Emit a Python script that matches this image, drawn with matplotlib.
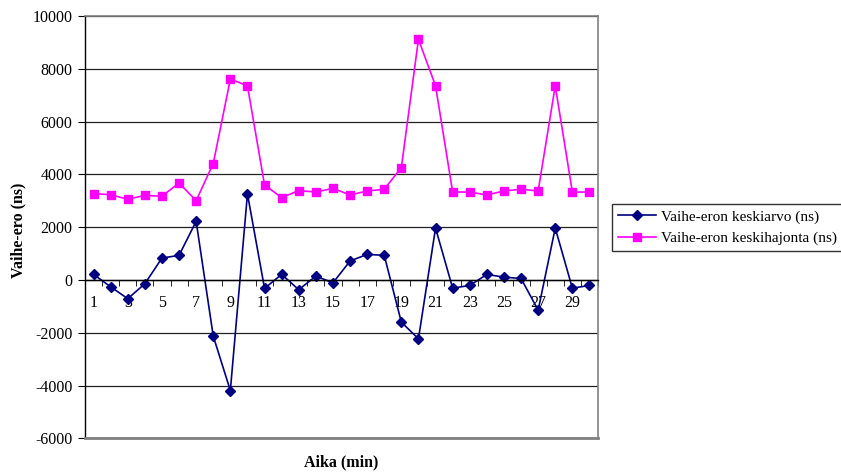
import matplotlib
matplotlib.use("Agg")
import matplotlib.pyplot as plt
from matplotlib.ticker import FixedLocator, NullFormatter

plt.rcParams['font.family'] = ['Liberation Serif', 'DejaVu Serif']

minutes = list(range(1, 31))
mean_ns = [210, -260, -710, -145, 830, 930, 2220, -2130, -4190, 3260,
           -320, 210, -370, 145, -110, 715, 970, 930, -1600, -2230,
           1965, -310, -210, 210, 105, 55, -1145, 1965, -310, -210]
std_ns = [3270, 3230, 3055, 3205, 3170, 3675, 3005, 4410, 7610, 7355,
          3600, 3120, 3385, 3330, 3470, 3220, 3370, 3435, 4260, 9115,
          7355, 3330, 3330, 3220, 3370, 3435, 3370, 7355, 3330, 3330]
yticks = [-6000, -4000, -2000, 0, 2000, 4000, 6000, 8000, 10000]
label_mean = "Vaihe-eron keskiarvo (ns)"
label_std = "Vaihe-eron keskihajonta (ns)"

W, H = 841, 475
fig = plt.figure(figsize=(W / 100, H / 100), dpi=100)
ax = fig.add_axes([85 / W, 1 - 438.3 / H, (598 - 85) / W, (438.3 - 16) / H])

ax.plot(minutes, mean_ns, color='#000080', marker='D', markersize=5.5,
        linewidth=1.2, label=label_mean)
ax.plot(minutes, std_ns, color='#FF00FF', marker='s', markersize=6,
        linewidth=1.2, label=label_std)

ax.set_xlim(0.5, 30.5)
ax.set_ylim(-6000, 10000)
ax.set_yticks(yticks)
ax.set_yticklabels([str(v) for v in yticks])
ax.yaxis.grid(True, color='#222222', linewidth=0.9)
ax.set_axisbelow(True)

# category axis crossing at zero
ax.spines['bottom'].set_position(('data', 0))
ax.spines['bottom'].set_color('black')
ax.spines['bottom'].set_linewidth(1.0)
ax.spines['left'].set_color('black')
ax.spines['left'].set_linewidth(1.0)
for s in ['top', 'right']:
    ax.spines[s].set_color('#808080')
    ax.spines[s].set_linewidth(1.2)
ax.axhline(-6000, color='#808080', linewidth=2.0, clip_on=False, zorder=3)

odd = [m for m in minutes if m % 2 == 1]
ax.set_xticks(odd)
ax.set_xticklabels([str(m) for m in odd])
ax.xaxis.set_minor_locator(FixedLocator([m + 0.5 for m in [0] + minutes]))
ax.xaxis.set_minor_formatter(NullFormatter())
ax.tick_params(axis='x', which='major', length=0, pad=11, labelsize=11.5)
ax.tick_params(axis='x', which='minor', length=4, direction='out', color='black')
ax.tick_params(axis='y', length=5, direction='out', labelsize=11.5, pad=4)

fig.text(18 / W, 1 - 230 / H, "Vaihe-ero (ns)", rotation=90, ha='center',
         va='center', fontsize=11.5, fontweight='bold')
fig.text(341 / W, 1 - 462 / H, "Aika (min)", ha='center', va='center',
         fontsize=11.5, fontweight='bold')

leg = fig.legend(loc='center left', bbox_to_anchor=(612 / W, 1 - 227.5 / H),
                 fontsize=11, frameon=True, fancybox=False, edgecolor='black',
                 borderpad=0.4, handlelength=2.5, labelspacing=0.5,
                 handletextpad=0.3, borderaxespad=0)
leg.get_frame().set_linewidth(1.0)

fig.savefig("out.png", dpi=100)
